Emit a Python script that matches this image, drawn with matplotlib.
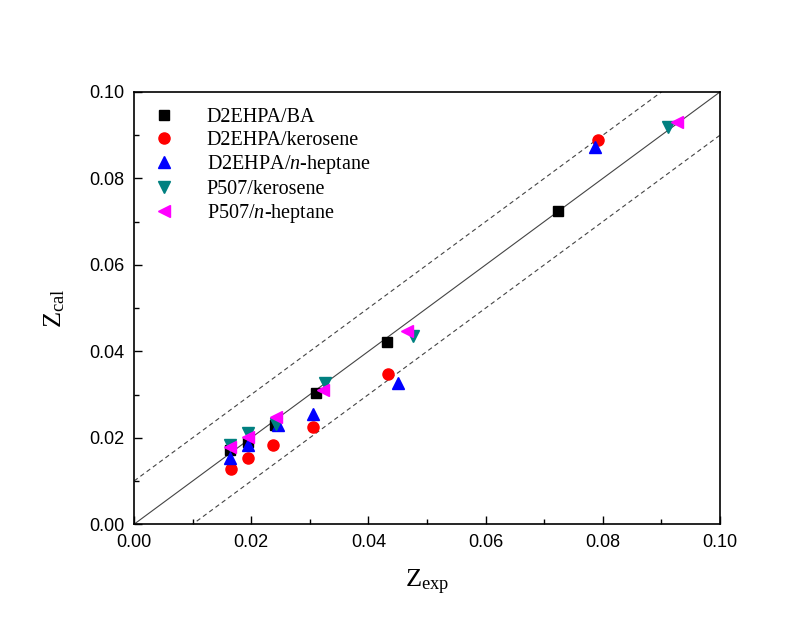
import numpy as np
import matplotlib.pyplot as plt
from matplotlib.ticker import MultipleLocator

plt.rcParams['mathtext.fontset'] = 'custom'
plt.rcParams['mathtext.rm'] = 'Liberation Serif'
plt.rcParams['mathtext.it'] = 'Liberation Serif:italic'

# data
ba_x = [0.0164, 0.0195, 0.0241, 0.0311, 0.0431, 0.0724]
ba_y = [0.0171, 0.0190, 0.0229, 0.0304, 0.0422, 0.0725]

ker_x = [0.0165, 0.0195, 0.0237, 0.0306, 0.0434, 0.0792]
ker_y = [0.0127, 0.0152, 0.0183, 0.0225, 0.0347, 0.0889]

hep_x = [0.0164, 0.0195, 0.0245, 0.0306, 0.0451, 0.0786]
hep_y = [0.0152, 0.0183, 0.0229, 0.0256, 0.0327, 0.0873]

p_ker_x = [0.0164, 0.0195, 0.0243, 0.0326, 0.0476, 0.0911]
p_ker_y = [0.0183, 0.0211, 0.0231, 0.0326, 0.0435, 0.0920]

p_hep_x = [0.0163, 0.0195, 0.0243, 0.0323, 0.0465, 0.0926]
p_hep_y = [0.0179, 0.0202, 0.0247, 0.0310, 0.0447, 0.0931]

fig = plt.figure(figsize=(7.89, 6.30), dpi=100)
ax = fig.add_axes([0.170, 0.168, 0.7425, 0.686])

line = np.array([0.0, 0.1])
ax.plot(line, line, color='#444444', lw=0.8)
ax.plot(line, line + 0.01, color='#444444', lw=0.8, ls=(0, (4, 3)))
ax.plot(line, line - 0.01, color='#444444', lw=0.8, ls=(0, (4, 3)))

ms = 8
ax.plot(ba_x, ba_y, 's', color='black', ms=7, label='D2EHPA/BA', zorder=3)
ax.plot(ker_x, ker_y, 'o', color='red', ms=ms, mec='red', label='D2EHPA/kerosene', zorder=3)
ax.plot(hep_x, hep_y, '^', color='blue', ms=ms + 1, label='D2EHPA/$n$-heptane', zorder=3)
ax.plot(p_ker_x, p_ker_y, 'v', color='#008080', ms=ms + 1, label='P507/kerosene', zorder=3)
ax.plot(p_hep_x, p_hep_y, '<', color='magenta', ms=ms + 1, label='P507/$n$-heptane', zorder=3)

ax.set_xlim(0, 0.1)
ax.set_ylim(0, 0.1)
ax.xaxis.set_major_locator(MultipleLocator(0.02))
ax.xaxis.set_minor_locator(MultipleLocator(0.01))
ax.yaxis.set_major_locator(MultipleLocator(0.02))
ax.yaxis.set_minor_locator(MultipleLocator(0.01))
ax.xaxis.set_major_formatter(plt.FormatStrFormatter('%.2f'))
ax.yaxis.set_major_formatter(plt.FormatStrFormatter('%.2f'))
ax.tick_params(which='both', direction='in', labelsize=13, pad=7)
ax.tick_params(which='major', length=6, width=1)
ax.tick_params(which='minor', length=3.5, width=1)
for lab in ax.get_xticklabels() + ax.get_yticklabels():
    lab.set_family('Liberation Sans')
for s in ax.spines.values():
    s.set_linewidth(1.2)

ax.set_xlabel('Z$_{\\mathrm{exp}}$', family='Liberation Serif', fontsize=19, labelpad=12)
ax.set_ylabel('Z$_{\\mathrm{cal}}$', family='Liberation Serif', fontsize=19, labelpad=16)

leg = ax.legend(loc='upper left', frameon=False, prop={'family': 'Liberation Serif', 'size': 14.5},
                handletextpad=1.4, labelspacing=0.17, bbox_to_anchor=(0.0, 1.0), borderaxespad=0.4,
                handlelength=1.4)

fig.savefig('out.png', dpi=100)
